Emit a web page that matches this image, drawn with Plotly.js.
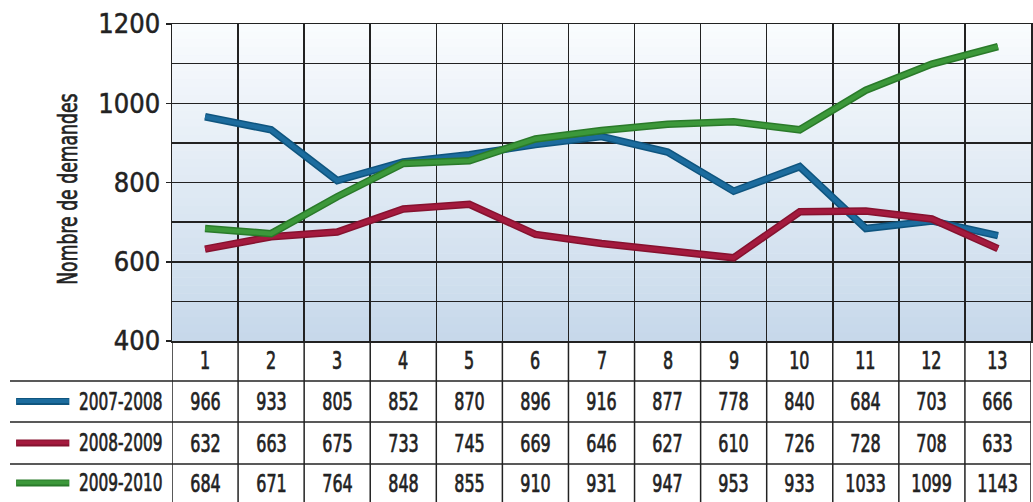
<!DOCTYPE html>
<html>
<head>
<meta charset="utf-8">
<script src="https://cdn.plot.ly/plotly-3.0.1.min.js"></script>
<style>
html,body{margin:0;padding:0;background:#fff;}
#chart{width:1033px;height:502px;}
#chart .annotation-text{transform-box:fill-box;transform-origin:50% 50%;transform:scaleX(0.71);stroke:#222;stroke-width:0.7px;}
#chart .ytick text{stroke:#222;stroke-width:0.5px;}
</style>
</head>
<body>
<div id="chart"></div>
<script>
const categories = ['1','2','3','4','5','6','7','8','9','10','11','12','13'];
const seriesNames = ['2007-2008','2008-2009','2009-2010'];
const s2007 = [966,933,805,852,870,896,916,877,778,840,684,703,666];
const s2008 = [632,663,675,733,745,669,646,627,610,726,728,708,633];
const s2009 = [684,671,764,848,855,910,931,947,953,933,1033,1099,1143];
const yTickVals = [400,600,800,1000,1200];
const yTitle = 'Nombre de demandes';

const seriesData = [s2007, s2008, s2009];
const mainColors = ['#1c6c9e', '#a41a3e', '#3c983a'];
const darkColors = ['#0f557f', '#85122f', '#2a7a2a'];
const FONT = '"DejaVu Sans Condensed", "Liberation Sans Narrow", sans-serif';
const xs = categories.map((c, i) => i + 1);

const traces = [];
seriesData.forEach((vals, k) => {
  traces.push({x: xs, y: vals, type: 'scatter', mode: 'lines', name: seriesNames[k] + ' ',
    line: {color: darkColors[k], width: 7.5}, showlegend: false, hoverinfo: 'skip'});
  traces.push({x: xs, y: vals, type: 'scatter', mode: 'lines', name: seriesNames[k],
    line: {color: mainColors[k], width: 4.5}, showlegend: false});
});

// background gradient (styling only)
const shapes = [];
const N = 40;
function lerp(a, b, t) { return Math.round(a + (b - a) * t); }
const gradTop = [250, 252, 254], gradBot = [198, 216, 234];
for (let i = 0; i < N; i++) {
  const t = (i + 0.5) / N;
  const c = 'rgb(' + lerp(gradTop[0], gradBot[0], t) + ',' + lerp(gradTop[1], gradBot[1], t) + ',' + lerp(gradTop[2], gradBot[2], t) + ')';
  shapes.push({type: 'rect', xref: 'paper', yref: 'paper', x0: 0, x1: 1,
    y0: 1 - (i + 1) / N, y1: 1 - i / N + 0.001, fillcolor: c, line: {width: 0}, layer: 'below'});
}

// table geometry in paper units (plot area 317px tall)
const rowLines = [-0.1262, -0.2555, -0.388];
const rowCenters = [-0.1909, -0.3218, -0.448];
const headerCenter = -0.063;
const tableBottom = -0.52;
const lineCol = '#222';
rowLines.forEach(y => {
  shapes.push({type: 'line', xref: 'paper', yref: 'paper', x0: -0.1886, x1: 1, y0: y, y1: y,
    line: {color: lineCol, width: 1.5}});
});
// vertical cell boundaries
for (let i = 0; i <= categories.length; i++) {
  shapes.push({type: 'line', xref: 'x', yref: 'paper', x0: i + 0.5, x1: i + 0.5, y0: 0, y1: tableBottom,
    line: {color: lineCol, width: 1.5}});
}
// legend swatches
rowCenters.forEach((y, k) => {
  shapes.push({type: 'line', xref: 'paper', yref: 'paper', x0: -0.1815, x1: -0.1195, y0: y, y1: y,
    line: {color: darkColors[k], width: 7}});
  shapes.push({type: 'line', xref: 'paper', yref: 'paper', x0: -0.181, x1: -0.12, y0: y + 0.002, y1: y + 0.002,
    line: {color: mainColors[k], width: 4}});
});

const annotations = [];
const txtFont = {family: FONT, size: 25, color: '#222'};
categories.forEach((c, i) => {
  annotations.push({x: i + 1, xref: 'x', y: headerCenter, yref: 'paper', text: c, showarrow: false,
    font: txtFont, xanchor: 'center', yanchor: 'middle'});
});
seriesData.forEach((vals, k) => {
  vals.forEach((v, i) => {
    annotations.push({x: i + 1, xref: 'x', y: rowCenters[k], yref: 'paper', text: String(v), showarrow: false,
      font: txtFont, xanchor: 'center', yanchor: 'middle'});
  });
  annotations.push({x: -0.0594, xref: 'paper', y: rowCenters[k], yref: 'paper', text: seriesNames[k], showarrow: false,
    font: {family: FONT, size: 24, color: '#222'}, xanchor: 'center', yanchor: 'middle'});
});
annotations.push({x: -0.121, xref: 'paper', y: 0.48, yref: 'paper', text: yTitle, textangle: -90, showarrow: false,
  font: {family: FONT, size: 27, color: '#222'}, xanchor: 'center', yanchor: 'middle'});

const layout = {
  width: 1033, height: 502,
  margin: {l: 172, r: 2, t: 24, b: 161, pad: 0},
  paper_bgcolor: '#ffffff', plot_bgcolor: '#eef3f9',
  showlegend: false,
  xaxis: {range: [0.5, 13.5], tickvals: categories.map((c, i) => i + 0.5).concat([13.5]),
    showticklabels: false, ticks: '', showgrid: true, gridcolor: lineCol, gridwidth: 1.5,
    zeroline: false, showline: true, linecolor: lineCol, linewidth: 1.5, mirror: true, fixedrange: true},
  yaxis: {range: [400, 1200], tickvals: yTickVals, ticks: 'outside', ticklen: 5, tickcolor: lineCol, tickwidth: 1.5,
    tickfont: {family: FONT, size: 27, color: '#222'}, showgrid: true, gridcolor: lineCol, gridwidth: 1.5,
    minor: {dtick: 100, tick0: 400, showgrid: true, gridcolor: lineCol, gridwidth: 1.5, ticks: ''},
    zeroline: false, showline: true, linecolor: lineCol, linewidth: 1.5, mirror: true, fixedrange: true},
  shapes: shapes,
  annotations: annotations
};

Plotly.newPlot('chart', traces, layout, {displayModeBar: false, staticPlot: true});
</script>
</body>
</html>
